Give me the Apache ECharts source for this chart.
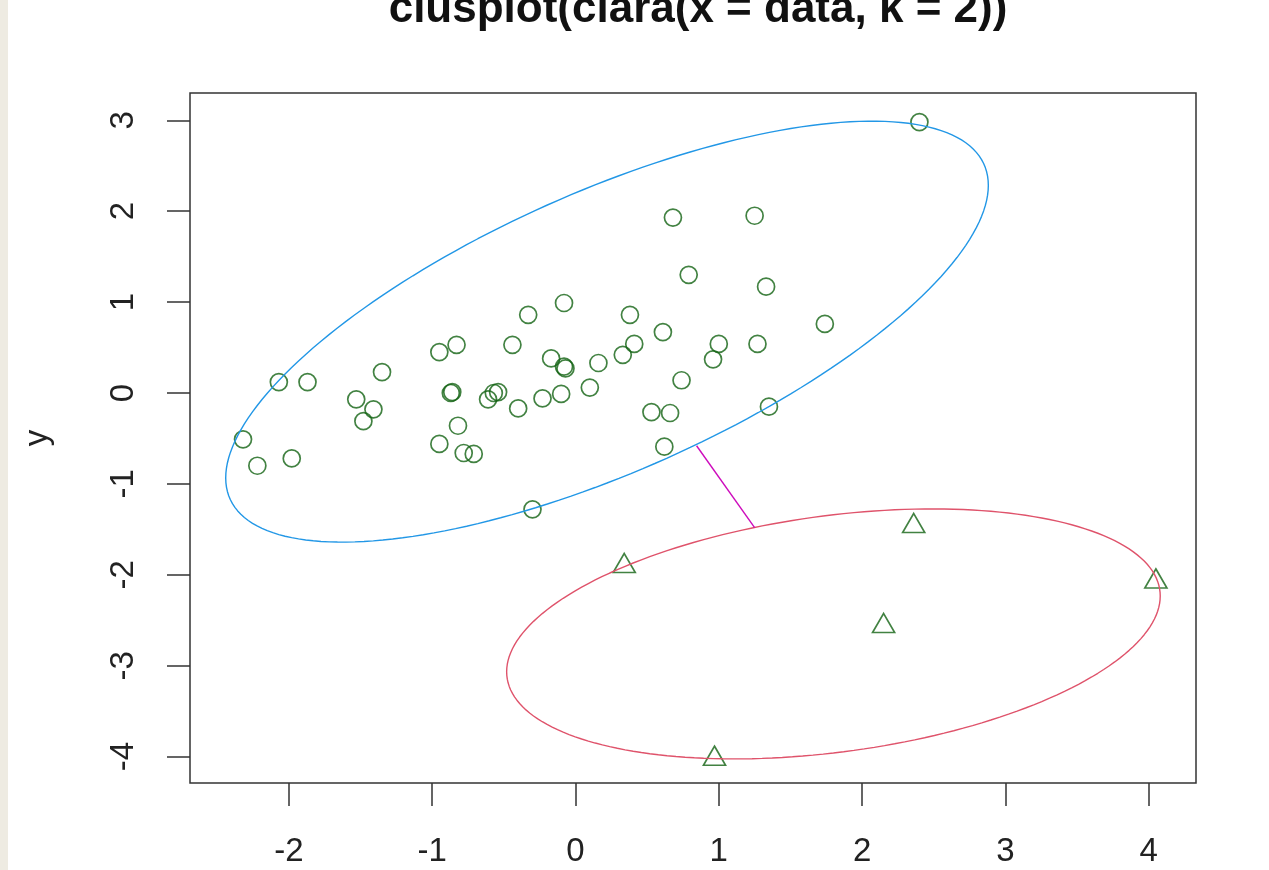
<!DOCTYPE html>
<html>
<head>
<meta charset="utf-8">
<script src="https://cdn.jsdelivr.net/npm/echarts@6/dist/echarts.min.js"></script>
<style>
  html, body { margin: 0; padding: 0; background: #fff; }
  #chart { width: 1269px; height: 870px; }
</style>
</head>
<body>
<div id="chart"></div>
<script>
// cluster 1 (circles)
const clus1X = [2.40, 0.68, 1.25, 0.79, 1.33, 1.74, -0.08, -0.33, 0.38, 0.61,
  -0.44, -0.83, -0.95, -0.17, 0.16, 0.41, 0.33, 1.00, 1.27, 0.96,
  -0.08, -0.07, -1.35, -2.07, -1.87, -1.53, -1.41, -1.48, -0.87, -0.86,
  -0.57, -0.54, -0.61, -0.40, -0.23, -0.10, 0.10, 0.74, 0.53, 0.66,
  1.35, -0.82, -0.95, -0.78, -0.71, -2.32, -2.22, -1.98, 0.62, -0.30];
const clus1Y = [2.98, 1.93, 1.95, 1.30, 1.17, 0.76, 0.99, 0.86, 0.86, 0.67,
  0.53, 0.53, 0.45, 0.38, 0.33, 0.54, 0.42, 0.54, 0.54, 0.37,
  0.29, 0.27, 0.23, 0.12, 0.12, -0.07, -0.18, -0.31, 0.00, 0.01,
  0.00, 0.01, -0.07, -0.17, -0.06, -0.01, 0.06, 0.14, -0.21, -0.22,
  -0.15, -0.36, -0.56, -0.66, -0.67, -0.51, -0.80, -0.72, -0.59, -1.28];

// cluster 2 (triangles)
const clus2X = [0.34, 2.36, 4.05, 2.15, 0.97];
const clus2Y = [-1.87, -1.43, -2.04, -2.53, -3.99];

// spanning ellipses: centre and shape matrix [a, b, d]
const ell1Center = [0.22, 0.675];
const ell1Shape = [7.08, 4.28, 5.36];
const ell2Center = [1.80, -2.65];
const ell2Shape = [5.20, 0.95, 1.89];

// segment joining the two ellipses
const linkX = [0.845, 1.25];
const linkY = [-0.58, -1.48];

const xTicks = [-2, -1, 0, 1, 2, 3, 4];
const yTicks = [-4, -3, -2, -1, 0, 1, 2, 3];

function ellipse(c, s) {
  const l11 = Math.sqrt(s[0]);
  const l21 = s[1] / l11;
  const l22 = Math.sqrt(s[2] - l21 * l21);
  const pts = [];
  for (let i = 0; i <= 200; i++) {
    const t = i / 200 * 2 * Math.PI;
    pts.push([c[0] + l11 * Math.cos(t), c[1] + l21 * Math.cos(t) + l22 * Math.sin(t)]);
  }
  return pts;
}

const font = "'Liberation Sans', Arial, sans-serif";
const chart = echarts.init(document.getElementById('chart'));

const option = {
  animation: false,
  backgroundColor: '#fff',
  graphic: [{
    type: 'rect', left: 0, top: 0,
    shape: { width: 8, height: 870 },
    style: { fill: '#eeebe2' }
  }],
  title: {
    text: 'clusplot(clara(x = data, k = 2))',
    left: 693, top: -17, textAlign: 'center',
    textStyle: { fontFamily: font, fontWeight: 'bold', fontSize: 44, color: '#111' }
  },
  grid: {
    left: 190, top: 93, right: 73, bottom: 87,
    show: true, borderColor: '#333', borderWidth: 1.5, backgroundColor: '#fff'
  },
  xAxis: {
    type: 'value', min: -2.69, max: 4.33,
    splitLine: { show: false },
    axisLine: { show: false, onZero: false },
    axisTick: { customValues: xTicks, length: 23, lineStyle: { color: '#333', width: 1.5 } },
    axisLabel: { customValues: xTicks, margin: 52, fontSize: 33, fontFamily: font, color: '#222' }
  },
  yAxis: {
    type: 'value', min: -4.29, max: 3.30,
    name: 'y', nameLocation: 'middle', nameGap: 136, nameRotate: 90,
    nameTextStyle: { fontSize: 33, fontFamily: font, color: '#222' },
    splitLine: { show: false },
    axisLine: { show: false, onZero: false },
    axisTick: { customValues: yTicks, length: 23, lineStyle: { color: '#333', width: 1.5 } },
    axisLabel: { customValues: yTicks, rotate: 90, margin: 50, fontSize: 33, fontFamily: font, color: '#222' }
  },
  series: [
    {
      type: 'line', data: ellipse(ell1Center, ell1Shape), showSymbol: false,
      lineStyle: { color: '#2297E6', width: 1.4 }
    },
    {
      type: 'line', data: ellipse(ell2Center, ell2Shape), showSymbol: false,
      lineStyle: { color: '#DF536B', width: 1.4 }
    },
    {
      type: 'line', data: linkX.map((x, i) => [x, linkY[i]]), showSymbol: false,
      lineStyle: { color: '#CD0BBC', width: 1.4 }
    },
    {
      type: 'scatter', symbol: 'circle', symbolSize: 17,
      data: clus1X.map((x, i) => [x, clus1Y[i]]),
      itemStyle: { color: 'rgba(0,0,0,0)', borderColor: '#136313', borderWidth: 1.7 }
    },
    {
      type: 'scatter', symbol: 'triangle', symbolSize: [22, 19],
      data: clus2X.map((x, i) => [x, clus2Y[i]]),
      itemStyle: { color: 'rgba(0,0,0,0)', borderColor: '#136313', borderWidth: 1.7 }
    }
  ]
};

chart.setOption(option);
</script>
</body>
</html>
